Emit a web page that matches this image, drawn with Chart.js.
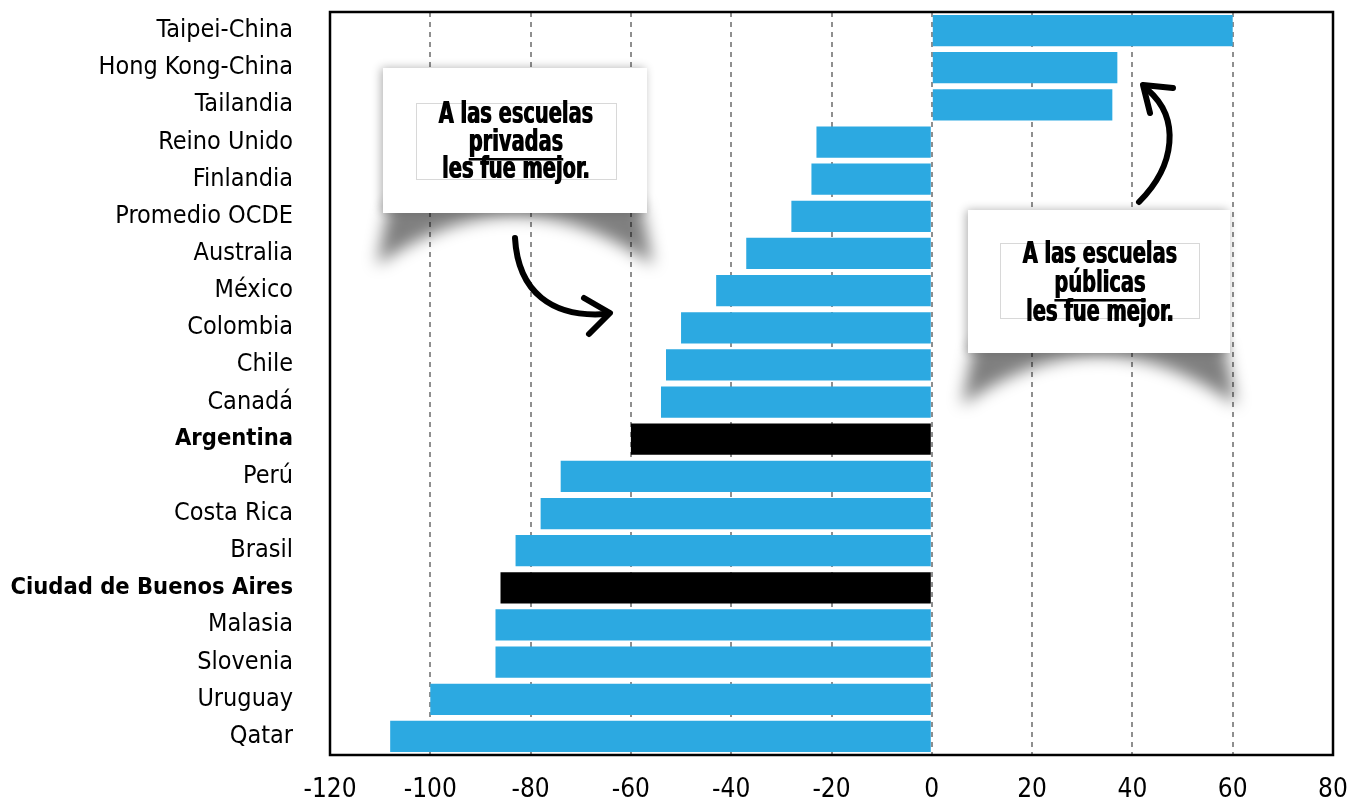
<!DOCTYPE html>
<html lang="es">
<head>
<meta charset="UTF-8">
<title>Escuelas privadas vs públicas</title>
<script src="https://cdn.jsdelivr.net/npm/chart.js"></script>
<style>
  html, body { margin: 0; padding: 0; background: #fff; }
  #wrap { width: 1348px; height: 806px; }
</style>
</head>
<body>
<div id="wrap"><canvas id="chart"></canvas></div>
<script>
// Data
const countries = [
  'Taipei-China', 'Hong Kong-China', 'Tailandia', 'Reino Unido', 'Finlandia',
  'Promedio OCDE', 'Australia', 'México', 'Colombia', 'Chile', 'Canadá',
  'Argentina', 'Perú', 'Costa Rica', 'Brasil', 'Ciudad de Buenos Aires',
  'Malasia', 'Slovenia', 'Uruguay', 'Qatar'
];
const diffs = [60, 37, 36, -23, -24, -28, -37, -43, -50, -53, -54,
               -60, -74, -78, -83, -86, -87, -87, -100, -108];
const highlighted = ['Argentina', 'Ciudad de Buenos Aires'];
const xTicks = [-120, -100, -80, -60, -40, -20, 0, 20, 40, 60, 80];

const BLUE = '#2CA9E1';
const FONT = '"DejaVu Sans Condensed", "Liberation Sans Narrow", sans-serif';

// Call-out boxes with hand drawn arrows
const notes = [
  { box: [383, 68, 647, 213], inner: [416, 103, 616, 179], cx: 516,
    lines: ['A las escuelas', 'privadas', 'les fue mejor.'], base: [123, 151, 178] },
  { box: [968, 210, 1230, 353], inner: [1000, 243, 1199, 318], cx: 1100,
    lines: ['A las escuelas', 'públicas', 'les fue mejor.'], base: [263, 292, 321] }
];

const calloutPlugin = {
  id: 'callouts',
  afterDatasetsDraw(chart) {
    const ctx = chart.ctx;
    notes.forEach(n => {
      const [x0, y0, x1, y1] = n.box;
      const cx = (x0 + x1) / 2;
      // curled paper shadow under the box
      ctx.save();
      ctx.filter = 'blur(8px)';
      ctx.fillStyle = 'rgba(0,0,0,0.5)';
      ctx.beginPath();
      ctx.moveTo(x0 + 6, y1 - 10);
      ctx.lineTo(x0 - 6, y1 + 52);
      ctx.quadraticCurveTo(cx, y1 - 46, x1 + 6, y1 + 52);
      ctx.lineTo(x1 - 6, y1 - 10);
      ctx.closePath();
      ctx.fill();
      ctx.restore();
      // white box
      ctx.save();
      ctx.shadowColor = 'rgba(0,0,0,0.3)';
      ctx.shadowBlur = 9;
      ctx.shadowOffsetX = -2;
      ctx.fillStyle = '#fff';
      ctx.fillRect(x0, y0, x1 - x0, y1 - y0);
      ctx.restore();
      // thin inner frame
      const [ix0, iy0, ix1, iy1] = n.inner;
      ctx.strokeStyle = '#d8d8d8';
      ctx.lineWidth = 1;
      ctx.strokeRect(ix0 + 0.5, iy0 + 0.5, ix1 - ix0, iy1 - iy0);
      // text (heavy condensed look: squeeze and double-strike)
      ctx.save();
      ctx.fillStyle = '#000';
      ctx.font = 'bold 30px ' + FONT;
      ctx.textAlign = 'center';
      ctx.textBaseline = 'alphabetic';
      const sx = 0.72;
      n.lines.forEach((t, i) => {
        ctx.save();
        ctx.translate(n.cx, n.base[i]);
        ctx.scale(sx, 1);
        ctx.fillText(t, -0.6, 0);
        ctx.fillText(t, 0.6, 0);
        if (i === 1) {
          const w = ctx.measureText(t).width;
          ctx.fillRect(-w / 2, 7, w, 2.5);
        }
        ctx.restore();
      });
      ctx.restore();
    });

    // arrows
    ctx.save();
    ctx.strokeStyle = '#000';
    ctx.lineWidth = 6;
    ctx.lineCap = 'round';
    ctx.lineJoin = 'round';
    ctx.beginPath();
    ctx.moveTo(515, 238);
    ctx.bezierCurveTo(518, 292, 552, 318, 606, 314);
    ctx.stroke();
    ctx.beginPath();
    ctx.moveTo(584, 298);
    ctx.lineTo(610, 313);
    ctx.lineTo(589, 334);
    ctx.stroke();

    ctx.beginPath();
    ctx.moveTo(1139, 202);
    ctx.bezierCurveTo(1176, 165, 1180, 118, 1148, 90);
    ctx.stroke();
    ctx.beginPath();
    ctx.moveTo(1150, 113);
    ctx.lineTo(1143, 85);
    ctx.lineTo(1173, 88);
    ctx.stroke();
    ctx.restore();

    // plot frame
    const a = chart.chartArea;
    ctx.save();
    ctx.strokeStyle = '#000';
    ctx.lineWidth = 2.5;
    ctx.strokeRect(a.left, a.top, a.right - a.left, a.bottom - a.top);
    ctx.restore();
  }
};

new Chart(document.getElementById('chart'), {
  type: 'bar',
  data: {
    labels: countries,
    datasets: [{
      data: diffs,
      backgroundColor: countries.map(c => highlighted.includes(c) ? '#000' : BLUE),
      borderWidth: 0,
      barPercentage: 0.84,
      categoryPercentage: 1
    }]
  },
  options: {
    indexAxis: 'y',
    responsive: true,
    maintainAspectRatio: false,
    animation: false,
    layout: { padding: { top: 12, right: 15, left: 0, bottom: 0 } },
    plugins: { legend: { display: false }, tooltip: { enabled: false } },
    scales: {
      x: {
        min: -120,
        max: 80,
        afterBuildTicks: axis => { axis.ticks = xTicks.map(v => ({ value: v })); },
        afterFit: s => { s.height = 51; s.paddingLeft = 0; s.paddingRight = 0; },
        grid: {
          color: c => (c.tick && (c.tick.value === -120 || c.tick.value === 80)) ? 'rgba(0,0,0,0)' : '#8f8f8f',
          lineWidth: 2,
          drawTicks: false
        },
        border: { display: false, dash: [5, 5] },
        ticks: { color: '#000', padding: 20, font: { family: FONT, size: 26 } }
      },
      y: {
        afterFit: s => { s.width = 330; s.paddingTop = 0; s.paddingBottom = 0; },
        grid: { display: false, drawTicks: false },
        border: { display: false },
        ticks: {
          color: '#000',
          padding: 37,
          autoSkip: false,
          font: c => highlighted.includes(countries[c.index])
            ? { family: FONT, size: 23.5, weight: 'bold' }
            : { family: FONT, size: 25, weight: 'normal' }
        }
      }
    }
  },
  plugins: [calloutPlugin]
});
</script>
</body>
</html>
